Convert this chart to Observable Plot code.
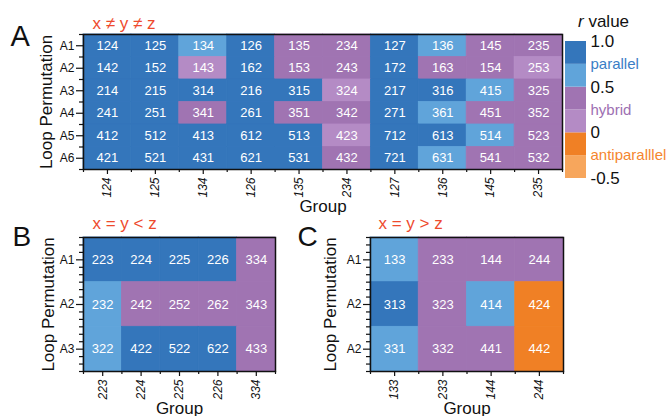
<!DOCTYPE html>
<html>
<head>
<meta charset="utf-8">
<script src="https://cdn.jsdelivr.net/npm/d3@7"></script>
<script src="https://cdn.jsdelivr.net/npm/@observablehq/plot@0.6"></script>
<style>
  body { margin: 0; background: #fff; }
  #fig { position: relative; width: 670px; height: 416px; overflow: hidden;
         font-family: "Liberation Sans", Arial, sans-serif; color: #111; }
  #fig svg { position: absolute; overflow: visible; }
  .rv { position: absolute; left: 578px; top: 13px; font-size: 17px; line-height: 17px; white-space: nowrap; }
</style>
</head>
<body>
<div id="fig"><div class="rv"><i>r</i> value</div></div>
<script>
// ---- Panel A: x ≠ y ≠ z ----
const groupsA = ["124", "125", "134", "126", "135", "234", "127", "136", "145", "235"];
const rowsA = ["A1", "A2", "A3", "A4", "A5", "A6"];
const permsA = [
  ["124", "125", "134", "126", "135", "234", "127", "136", "145", "235"],
  ["142", "152", "143", "162", "153", "243", "172", "163", "154", "253"],
  ["214", "215", "314", "216", "315", "324", "217", "316", "415", "325"],
  ["241", "251", "341", "261", "351", "342", "271", "361", "451", "352"],
  ["412", "512", "413", "612", "513", "423", "712", "613", "514", "523"],
  ["421", "521", "431", "621", "531", "432", "721", "631", "541", "532"]
];
const rA = [
  [0.88, 0.88, 0.62, 0.88, 0.38, 0.38, 0.88, 0.62, 0.38, 0.38],
  [0.88, 0.88, 0.12, 0.88, 0.38, 0.38, 0.88, 0.38, 0.38, 0.12],
  [0.88, 0.88, 0.88, 0.88, 0.88, 0.12, 0.88, 0.88, 0.62, 0.38],
  [0.88, 0.88, 0.38, 0.88, 0.38, 0.38, 0.88, 0.62, 0.38, 0.38],
  [0.88, 0.88, 0.88, 0.88, 0.88, 0.12, 0.88, 0.88, 0.62, 0.38],
  [0.88, 0.88, 0.88, 0.88, 0.88, 0.38, 0.88, 0.62, 0.38, 0.38]
];

// ---- Panel B: x = y < z ----
const groupsB = ["223", "224", "225", "226", "334"];
const rowsB = ["A1", "A2", "A3"];
const permsB = [
  ["223", "224", "225", "226", "334"],
  ["232", "242", "252", "262", "343"],
  ["322", "422", "522", "622", "433"]
];
const rB = [
  [0.88, 0.88, 0.88, 0.88, 0.38],
  [0.62, 0.38, 0.38, 0.38, 0.38],
  [0.62, 0.88, 0.88, 0.88, 0.38]
];

// ---- Panel C: x = y > z ----
const groupsC = ["133", "233", "144", "244"];
const rowsC = ["A1", "A2", "A2"];
const permsC = [
  ["133", "233", "144", "244"],
  ["313", "323", "414", "424"],
  ["331", "332", "441", "442"]
];
const rC = [
  [0.62, 0.38, 0.38, 0.38],
  [0.88, 0.38, 0.62, -0.12],
  [0.62, 0.38, 0.38, -0.12]
];

// ---- r value colour bins ----
const binEdges = [-0.5, -0.25, 0, 0.25, 0.5, 0.75, 1.0];
const binColors = ["#f7a65c", "#f08025", "#b48bc5", "#a074b2", "#60a4da", "#3476bb"];
const legendNumVals = [1.0, 0.5, 0, -0.5];
const legendNumText = ["1.0", "0.5", "0", "-0.5"];
const legendWordVals = [0.75, 0.25, -0.25];
const legendWords = ["parallel", "hybrid", "antiparalllel"];
const legendWordColors = ["#3a7ec6", "#9d70b2", "#f5862f"];

const FONT = '"Liberation Sans", Arial, sans-serif';
const INK = "#111";
const colorScale = {type: "threshold", domain: binEdges.slice(1, -1), range: binColors};

const fig = document.getElementById("fig");

function panel(o) {
  const cells = o.perms.flatMap((row, i) =>
    row.map((p, j) => ({col: j + 1, row: i + 1, perm: p, r: o.r[i][j]})));
  const nx = o.groups.length, ny = o.rows.length;
  const xMinor = d3.range(0, nx + 1).map(k => k + 0.5);
  const yMinor = d3.range(0, ny * o.minorPerRow + 1)
    .map(k => 0.5 + k / o.minorPerRow)
    .filter(v => !Number.isInteger(v));
  const svg = Plot.plot({
    width: o.width, height: o.height,
    marginLeft: o.ml, marginRight: o.mr, marginTop: o.mt, marginBottom: o.mb,
    x: {type: "linear", domain: [0.5, nx + 0.5], axis: null},
    y: {type: "linear", domain: [0.5, ny + 0.5], reverse: true, axis: null},
    color: colorScale,
    style: {fontFamily: FONT, background: "transparent", color: INK, overflow: "visible"},
    marks: [
      // cells overlap by a hair so no seams show between neighbours
      Plot.rect(cells, {
        x1: d => d.col - 0.5, x2: d => d.col + 0.5,
        y1: d => d.row - 0.5, y2: d => d.row + 0.5,
        fill: "r", stroke: "r", strokeWidth: 0.8
      }),
      Plot.text(cells, {x: "col", y: "row", text: "perm", fill: "white", fontSize: 13}),
      Plot.frame({stroke: INK, strokeWidth: 1.5}),
      Plot.axisX(d3.range(1, nx + 1), {
        tickFormat: i => o.groups[i - 1], tickSize: 5, tickPadding: 3, tickRotate: -90,
        fontSize: 12, fontStyle: "italic", label: null, strokeWidth: 1.2
      }),
      Plot.axisX(xMinor, {tickSize: 3, text: null, label: null, strokeWidth: 1.2}),
      Plot.axisY(d3.range(1, ny + 1), {
        tickFormat: i => o.rows[i - 1], tickSize: 7, tickPadding: 2,
        fontSize: 12, label: null, strokeWidth: 1.2
      }),
      Plot.axisY(yMinor, {tickSize: 4, text: null, label: null, strokeWidth: 1.2}),
      Plot.text(["Loop Permutation"], {
        frameAnchor: "left", textAnchor: "middle", lineAnchor: "middle",
        rotate: -90, dx: o.ylabDx, fontSize: 17
      }),
      Plot.text(["Group"], {
        frameAnchor: "bottom", textAnchor: "middle", lineAnchor: "bottom",
        dy: 42, fontSize: 17
      }),
      Plot.text([o.title], {
        frameAnchor: "top-left", textAnchor: "start", lineAnchor: "bottom",
        dx: o.titleDx, dy: o.titleDy, fontSize: 17, fill: "#ee4a2d"
      }),
      Plot.text([o.letter], {
        frameAnchor: "top-left", textAnchor: "start", lineAnchor: "bottom",
        dx: o.letterDx, dy: o.letterDy, fontSize: o.letterSize
      })
    ]
  });
  svg.style.left = o.left + "px";
  svg.style.top = o.top + "px";
  fig.appendChild(svg);
}

panel({
  groups: groupsA, rows: rowsA, perms: permsA, r: rA, minorPerRow: 1,
  title: "x ≠ y ≠ z", letter: "A",
  left: 0, top: 0, width: 575, height: 218, ml: 83, mr: 13, mt: 34, mb: 49,
  ylabDx: -37, titleDx: 9, titleDy: -6, letterDx: -73, letterDy: 11, letterSize: 29
});

panel({
  groups: groupsB, rows: rowsB, perms: permsB, r: rB, minorPerRow: 6,
  title: "x = y < z", letter: "B",
  left: 0, top: 200, width: 290, height: 216, ml: 83, mr: 15, mt: 37, mb: 45,
  ylabDx: -35, titleDx: 9, titleDy: -9, letterDx: -71, letterDy: 8, letterSize: 28
});

panel({
  groups: groupsC, rows: rowsC, perms: permsC, r: rC, minorPerRow: 6,
  title: "x = y > z", letter: "C",
  left: 290, top: 200, width: 290, height: 216, ml: 80, mr: 17, mt: 37, mb: 45,
  ylabDx: -40, titleDx: 8, titleDy: -9, letterDx: -73, letterDy: 8, letterSize: 28
});

// ---- colour bar legend ----
const legendBins = binColors.map((c, i) => ({lo: binEdges[i], hi: binEdges[i + 1]}));
const legend = Plot.plot({
  width: 130, height: 200,
  marginLeft: 25, marginRight: 84, marginTop: 41, marginBottom: 22,
  x: {axis: null},
  y: {domain: [-0.5, 1.0], axis: null},
  color: colorScale,
  style: {fontFamily: FONT, background: "transparent", color: INK, overflow: "visible"},
  marks: [
    Plot.rect(legendBins, {y1: "lo", y2: "hi", fill: d => (d.lo + d.hi) / 2}),
    Plot.text(legendNumVals, {
      y: d => d, text: (d, i) => legendNumText[i],
      frameAnchor: "right", textAnchor: "start", dx: 4, fontSize: 17
    }),
    Plot.text(legendWordVals, {
      y: d => d, text: (d, i) => legendWords[i], fill: (d, i) => legendWordColors[i],
      frameAnchor: "right", textAnchor: "start", dx: 4, fontSize: 15
    })
  ]
});
legend.style.left = "540px";
legend.style.top = "0px";
fig.appendChild(legend);
</script>
</body>
</html>
